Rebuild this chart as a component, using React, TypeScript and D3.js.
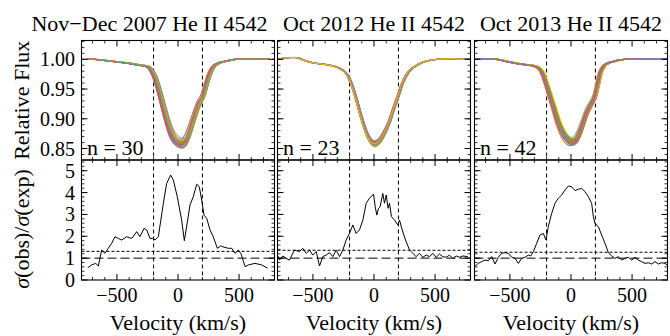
import React from "react";
import * as d3 from "d3";

// ---------- data ----------
const titles = ["Nov\u2212Dec 2007 He II 4542", "Oct 2012 He II 4542", "Oct 2013 He II 4542"];
const nLabels = ["n = 30", "n = 23", "n = 42"];
const titleCenters = [149.5, 374, 571];
const xTicks = [-500, 0, 500];
const fluxTicks = [0.85, 0.9, 0.95, 1.0];
const sigmaTicks = [0, 1, 2, 3, 4, 5];
const boundaryV = [-200, 200];
const sigmaExpected = 1;
const sigmaThreshold = [1.31, 1.36, 1.27];

// mean line profiles (velocity km/s, relative flux)
const profile2007: [number, number][] = [
  [-739, 1.0], [-700, 1.0], [-640, 0.999], [-560, 0.997], [-475, 0.995], [-400, 0.993],
  [-320, 0.99], [-260, 0.988], [-230, 0.984], [-207, 0.976], [-180, 0.962], [-150, 0.94],
  [-120, 0.915], [-90, 0.892], [-60, 0.873], [-30, 0.862], [0, 0.857], [30, 0.855],
  [60, 0.86], [90, 0.874], [120, 0.893], [150, 0.912], [180, 0.928], [207, 0.938],
  [230, 0.955], [260, 0.975], [290, 0.987], [330, 0.993], [400, 0.997], [480, 1.0],
  [550, 1.0], [640, 1.0], [734, 1.0],
];
const profile2012: [number, number][] = [
  [-787, 1.0], [-740, 1.002], [-690, 1.003], [-637, 1.003], [-570, 0.998], [-501, 0.994],
  [-430, 0.992], [-364, 0.99], [-300, 0.986], [-255, 0.981], [-225, 0.975], [-206, 0.968],
  [-180, 0.955], [-146, 0.932], [-120, 0.912], [-92, 0.892], [-60, 0.873], [-30, 0.862],
  [0, 0.857], [30, 0.859], [60, 0.866], [90, 0.877], [127, 0.894], [160, 0.915],
  [198, 0.937], [230, 0.957], [264, 0.972], [300, 0.982], [345, 0.989], [400, 0.995],
  [454, 0.998], [520, 1.0], [591, 1.001], [660, 1.001], [730, 1.0], [790, 1.0],
];
const profile2013: [number, number][] = [
  [-792, 1.001], [-700, 1.001], [-608, 1.0], [-520, 0.996], [-445, 0.993], [-380, 0.991],
  [-336, 0.99], [-281, 0.987], [-240, 0.979], [-205, 0.96], [-175, 0.94], [-145, 0.92],
  [-104, 0.892], [-70, 0.875], [-35, 0.864], [0, 0.859], [35, 0.862], [70, 0.875],
  [100, 0.892], [129, 0.909], [165, 0.924], [196, 0.937], [220, 0.958], [237, 0.974],
  [265, 0.987], [300, 0.993], [347, 0.996], [400, 0.999], [456, 1.0], [565, 1.001],
  [680, 1.001], [783, 1.001],
];

// per-spectrum depth factors and velocity shifts
const depth2007 = [1.0, 0.97, 1.02, 0.95, 0.99, 1.03, 0.93, 0.98, 1.01, 0.96, 0.94, 1.02, 0.99, 0.97, 1.0,
  0.92, 0.98, 1.01, 0.95, 0.99, 1.03, 0.96, 0.94, 1.0, 0.97, 0.99, 1.02, 0.95, 0.98, 0.96];
const shift2007 = [0, -10, 8, 15, -5, 12, -15, 5, -8, 10, 18, -12, 3, -3, 7, 20, -6, 14, -18, 9, -2, 16, 4,
  -9, 11, -14, 6, 13, -4, 2];
const depth2012 = [1.0, 0.98, 1.02, 0.97, 0.99, 1.01, 0.96, 1.0, 0.98, 1.03, 0.97, 0.99, 1.01, 0.98, 1.0,
  0.96, 1.02, 0.99, 0.97, 1.01, 0.98, 1.0, 0.99];
const shift2012 = [0, -6, 5, 8, -4, 3, -8, 6, -2, 2, 9, -5, 4, -7, 1, 7, -3, 5, -9, 3, -1, 8, -4];
const depth2013 = [1.0, 0.97, 1.02, 0.95, 0.99, 1.03, 0.94, 0.98, 1.01, 0.96, 1.0, 1.02, 0.97, 0.99, 0.95,
  1.01, 0.98, 1.03, 0.96, 0.99, 1.0, 0.94, 0.97, 1.02, 0.98, 1.0, 0.96, 1.01, 0.99, 0.95, 1.02, 0.97,
  0.98, 1.03, 0.96, 1.0, 0.99, 0.94, 1.01, 0.97, 0.99, 1.02];
const shift2013 = [0, -12, 6, 14, -6, 10, -16, 4, -9, 12, 2, -4, 16, -10, 8, -2, 18, -14, 5, 11, -7, 3, -18,
  9, -3, 13, -11, 7, -5, 15, 1, -8, 10, -15, 4, 12, -1, 17, -6, 6, -13, 2];

// sigma(obs)/sigma(exp) series (velocity, ratio)
const sigma2007: [number, number][] = [
  [-739, 0.56], [-707, 0.69], [-674, 0.76], [-652, 0.64], [-625, 1.37], [-598, 1.22], [-571, 1.45],
  [-543, 1.68], [-516, 1.98], [-489, 1.9], [-461, 1.83], [-420, 1.98], [-379, 1.9], [-338, 2.21],
  [-311, 1.98], [-278, 2.36], [-256, 2.29], [-229, 1.9], [-207, 1.9], [-188, 1.83], [-161, 1.98],
  [-120, 3.5], [-93, 4.42], [-60, 4.8], [-38, 4.57], [-6, 3.81], [30, 2.74], [52, 1.8], [79, 2.74],
  [98, 3.43], [125, 3.81], [153, 4.38], [174, 4.27], [194, 3.66], [213, 2.97], [235, 2.82],
  [262, 2.29], [289, 1.98], [322, 1.45], [350, 1.56], [377, 1.5], [412, 1.45], [440, 1.45],
  [467, 1.22], [494, 1.37], [516, 1.2], [549, 0.61], [576, 0.69], [630, 0.76], [685, 0.69], [734, 0.54],
];
const sigma2012: [number, number][] = [
  [-787, 1.1], [-774, 0.91], [-746, 1.1], [-719, 0.99], [-692, 0.91], [-651, 1.37], [-610, 1.3],
  [-583, 1.45], [-555, 1.22], [-528, 1.37], [-501, 1.14], [-473, 1.3], [-446, 0.64], [-419, 1.07],
  [-392, 1.14], [-364, 1.25], [-337, 1.07], [-310, 1.37], [-282, 1.07], [-255, 1.37], [-228, 1.83],
  [-201, 2.13], [-173, 2.52], [-146, 2.13], [-119, 2.29], [-91, 2.74], [-64, 3.51], [-37, 3.74],
  [-4, 3.93], [10, 3.35], [23, 2.97], [37, 3.28], [50, 3.35], [72, 3.96], [86, 3.51], [100, 3.89],
  [116, 3.28], [127, 3.51], [143, 2.9], [168, 2.74], [195, 2.52], [209, 2.74], [231, 2.29],
  [258, 1.83], [291, 1.37], [318, 1.22], [345, 1.07], [372, 1.22], [400, 1.04], [427, 1.14],
  [454, 1.07], [482, 1.22], [509, 1.04], [536, 1.19], [563, 1.07], [591, 1.04], [618, 1.14],
  [645, 0.99], [673, 1.1], [700, 1.04], [727, 1.1], [768, 1.07],
];
const sigma2013: [number, number][] = [
  [-791, 0.61], [-759, 0.76], [-731, 0.84], [-704, 0.91], [-677, 0.88], [-649, 1.07], [-622, 0.73],
  [-595, 1.04], [-568, 1.22], [-540, 1.25], [-513, 1.22], [-486, 1.04], [-458, 0.99], [-431, 0.76],
  [-404, 0.99], [-377, 1.04], [-349, 1.14], [-330, 1.1], [-308, 1.3], [-281, 1.68], [-254, 2.06],
  [-227, 2.13], [-205, 1.83], [-186, 2.44], [-158, 3.05], [-131, 3.51], [-104, 3.74], [-76, 3.89],
  [-49, 4.12], [-22, 4.3], [5, 4.27], [33, 4.09], [60, 4.15], [87, 4.19], [115, 4.04], [142, 3.81],
  [169, 3.51], [183, 2.9], [196, 2.59], [224, 2.44], [251, 2.06], [278, 1.68], [306, 1.25],
  [333, 1.1], [360, 0.99], [387, 1.07], [415, 0.91], [442, 0.99], [469, 1.04], [497, 0.91],
  [524, 1.04], [551, 0.91], [579, 0.84], [606, 0.76], [633, 0.79], [660, 0.73], [688, 0.84],
  [715, 0.73], [742, 0.79], [770, 0.76], [797, 0.64],
];

const palette = ["#5E81B5", "#E19C24", "#8FB032", "#EB6235", "#8778B3", "#C56E1A", "#5D9EC7", "#FFBF00",
  "#A5609D", "#929600", "#E95536", "#6685D9", "#F89F13", "#BC5B80", "#47B66D"];

// ---------- layout ----------
const W = 670, H = 336;
const panelLeft = [81.5, 277.5, 474.5];
const panelWidth = 193;
const topY = 40.5, midY = 160, botY = 280;
const FONT = "Liberation Serif, Times New Roman, DejaVu Serif, serif";

const panels = [
  { profile: profile2007, depth: depth2007, shift: shift2007, sigma: sigma2007 },
  { profile: profile2012, depth: depth2012, shift: shift2012, sigma: sigma2012 },
  { profile: profile2013, depth: depth2013, shift: shift2013, sigma: sigma2013 },
];

function fmtX(v: number) {
  return v < 0 ? "\u2212" + Math.abs(v) : String(v);
}

const txt = { fontFamily: FONT };

export default function App() {
  const yFlux = d3.scaleLinear().domain([0.8307, 1.0316]).range([midY, topY]);
  const ySig = d3.scaleLinear().domain([0, 5.49]).range([botY, midY]);
  const fluxMinor = d3.range(84, 104).map((k) => k / 100);
  const sigMinor = d3.range(0, 28).map((k) => k / 5);
  const xMinor = d3.range(-700, 800, 100);
  const maj = 6, mnr = 3;

  return (
    <svg width={W} height={H} style={{ position: "absolute", left: 0, top: 0, background: "#fff", fontFamily: FONT }}>
      <defs>
        {panels.map((_, i) => (
          <g key={i}>
            <clipPath id={`cu${i}`}>
              <rect x={panelLeft[i]} y={topY} width={panelWidth} height={midY - topY} />
            </clipPath>
            <clipPath id={`cl${i}`}>
              <rect x={panelLeft[i]} y={midY} width={panelWidth} height={botY - midY} />
            </clipPath>
          </g>
        ))}
      </defs>
      {panels.map((p, i) => {
        const L = panelLeft[i], R = L + panelWidth;
        const x = d3.scaleLinear().domain([-790, 790]).range([L, R]);
        const specLine = d3.line<[number, number]>()
          .x((d) => x(d[0])).y((d) => yFlux(d[1])).curve(d3.curveMonotoneX);
        const sigLine = d3.line<[number, number]>().x((d) => x(d[0])).y((d) => ySig(d[1]));
        const spectra = p.depth.map((dep, k) =>
          p.profile.map(([v, f]) => [v + p.shift[k], 1 - (1 - f) * dep] as [number, number]));
        const cx = (L + R) / 2;
        return (
          <g key={i}>
            {boundaryV.map((bv) => (
              <line key={bv} x1={x(bv)} x2={x(bv)} y1={topY} y2={botY} stroke="#000"
                strokeWidth={1} strokeDasharray="4,3" />
            ))}
            <g clipPath={`url(#cu${i})`}>
              {spectra.map((s, k) => (
                <path key={k} d={specLine(s) || ""} fill="none" stroke={palette[k % palette.length]}
                  strokeWidth={0.9} />
              ))}
            </g>
            <g clipPath={`url(#cl${i})`}>
              <line x1={L} x2={R} y1={ySig(sigmaExpected)} y2={ySig(sigmaExpected)} stroke="#000"
                strokeWidth={1} strokeDasharray="9,4" />
              <line x1={L} x2={R} y1={ySig(sigmaThreshold[i])} y2={ySig(sigmaThreshold[i])} stroke="#000"
                strokeWidth={1} strokeDasharray="3,2" />
              <path d={sigLine(p.sigma) || ""} fill="none" stroke="#000" strokeWidth={1} />
            </g>
            <rect x={L} y={topY} width={panelWidth} height={midY - topY} fill="none" stroke="#000" strokeWidth={1.1} />
            <rect x={L} y={midY} width={panelWidth} height={botY - midY} fill="none" stroke="#000" strokeWidth={1.1} />
            {[topY, midY, botY].map((yy, j) => {
              const dirs = j === 0 ? [1] : j === 1 ? [-1, 1] : [-1];
              return dirs.map((dir) => (
                <g key={`${j}${dir}`}>
                  {xTicks.map((t) => (
                    <line key={t} x1={x(t)} x2={x(t)} y1={yy} y2={yy + dir * maj} stroke="#000" />
                  ))}
                  {xMinor.filter((t) => !xTicks.includes(t)).map((t) => (
                    <line key={t} x1={x(t)} x2={x(t)} y1={yy} y2={yy + dir * mnr} stroke="#000" strokeWidth={0.8} />
                  ))}
                </g>
              ));
            })}
            {[L, R].map((xx, j) => {
              const dir = j === 0 ? 1 : -1;
              return (
                <g key={j}>
                  {fluxTicks.map((t) => (
                    <line key={t} x1={xx} x2={xx + dir * maj} y1={yFlux(t)} y2={yFlux(t)} stroke="#000" />
                  ))}
                  {fluxMinor.filter((t) => yFlux(t) > topY && yFlux(t) < midY).map((t) => (
                    <line key={t} x1={xx} x2={xx + dir * mnr} y1={yFlux(t)} y2={yFlux(t)} stroke="#000" strokeWidth={0.8} />
                  ))}
                  {sigmaTicks.map((t) => (
                    <line key={"s" + t} x1={xx} x2={xx + dir * maj} y1={ySig(t)} y2={ySig(t)} stroke="#000" />
                  ))}
                  {sigMinor.filter((t) => ySig(t) > midY && ySig(t) < botY).map((t) => (
                    <line key={"m" + t} x1={xx} x2={xx + dir * mnr} y1={ySig(t)} y2={ySig(t)} stroke="#000" strokeWidth={0.8} />
                  ))}
                </g>
              );
            })}
            {xTicks.map((t) => (
              <text key={t} x={x(t)} y={301.5} fontSize={20} textAnchor="middle" style={txt}>{fmtX(t)}</text>
            ))}
            <text x={cx} y={330} fontSize={22} textAnchor="middle" style={txt}>Velocity (km/s)</text>
            <text x={titleCenters[i]} y={31} fontSize={22} textAnchor="middle" style={txt}>{titles[i]}</text>
            <text x={L + 5.5} y={155} fontSize={22} style={txt}>{nLabels[i]}</text>
          </g>
        );
      })}
      {fluxTicks.map((t) => (
        <text key={t} x={75} y={yFlux(t) + 7} fontSize={20} textAnchor="end" style={txt}>{t.toFixed(2)}</text>
      ))}
      {sigmaTicks.map((t) => (
        <text key={t} x={75} y={ySig(t) + 7} fontSize={20} textAnchor="end" style={txt}>{t}</text>
      ))}
      <text transform={`translate(29,${(topY + midY) / 2}) rotate(-90)`} fontSize={22} textAnchor="middle" style={txt}>
        Relative Flux
      </text>
      <text transform={`translate(29,229) rotate(-90)`} fontSize={22} textAnchor="middle" style={txt}>
        <tspan fontStyle="italic">σ</tspan>(obs)/<tspan fontStyle="italic">σ</tspan>(exp)
      </text>
    </svg>
  );
}
